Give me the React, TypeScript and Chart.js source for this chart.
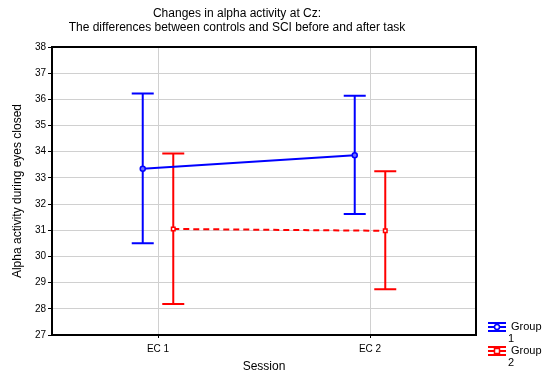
import React, { useEffect, useRef } from "react";
import { Chart, registerables } from "chart.js";

Chart.register(...registerables);

const categories = ["EC 1", "EC 2"];
const group1Mean = [33.35, 33.87];
const group1Upper = [36.22, 36.14];
const group1Lower = [30.5, 31.62];
const group2Mean = [31.05, 30.98];
const group2Upper = [33.93, 33.25];
const group2Lower = [28.18, 28.75];
const legendLabels = ["Group 1", "Group 2"];
const titleLines = ["Changes in alpha activity at Cz:", "The differences between controls and SCI before and after task"];

const BLUE = "#0000ff";
const RED = "#ff0000";
const OFFSET = 0.072;
const FONT = "'Liberation Sans', Arial, sans-serif";

export default function App() {
  const ref = useRef<HTMLCanvasElement | null>(null);

  useEffect(() => {
    const canvas = ref.current;
    if (!canvas) return;

    const errorBars = {
      id: "errorBars",
      beforeDatasetsDraw(chart: any) {
        const ctx = chart.ctx;
        const xs = chart.scales.x;
        const ys = chart.scales.y;
        const groups = [
          { up: group1Upper, lo: group1Lower, off: -OFFSET, color: BLUE },
          { up: group2Upper, lo: group2Lower, off: OFFSET, color: RED },
        ];
        ctx.save();
        groups.forEach((g) => {
          ctx.strokeStyle = g.color;
          ctx.lineWidth = 2;
          categories.forEach((_, i) => {
            const x = xs.getPixelForValue(i + 1 + g.off);
            const yu = ys.getPixelForValue(g.up[i]);
            const yl = ys.getPixelForValue(g.lo[i]);
            ctx.beginPath();
            ctx.moveTo(x, yu);
            ctx.lineTo(x, yl);
            ctx.moveTo(x - 11, yu);
            ctx.lineTo(x + 11, yu);
            ctx.moveTo(x - 11, yl);
            ctx.lineTo(x + 11, yl);
            ctx.stroke();
          });
        });
        ctx.restore();
      },
      afterDraw(chart: any) {
        const ctx = chart.ctx;
        const a = chart.chartArea;
        ctx.save();
        ctx.strokeStyle = "#000";
        ctx.lineWidth = 2;
        ctx.strokeRect(a.left, a.top, a.right - a.left, a.bottom - a.top);
        // title
        ctx.fillStyle = "#000";
        ctx.font = `12px ${FONT}`;
        ctx.textAlign = "center";
        ctx.textBaseline = "middle";
        ctx.fillText(titleLines[0], 237, 14);
        ctx.fillText(titleLines[1], 237, 28);
        // legend
        const items = [
          { color: BLUE, y: 327, shape: "circle" },
          { color: RED, y: 351, shape: "rect" },
        ];
        items.forEach((it, i) => {
          const x0 = 488, x1 = 506, cx = 497;
          ctx.strokeStyle = it.color;
          ctx.lineWidth = 2;
          ctx.beginPath();
          ctx.moveTo(x0, it.y - 4);
          ctx.lineTo(x1, it.y - 4);
          ctx.moveTo(x0, it.y + 4);
          ctx.lineTo(x1, it.y + 4);
          ctx.moveTo(cx, it.y - 4);
          ctx.lineTo(cx, it.y + 4);
          ctx.moveTo(x0, it.y);
          ctx.lineTo(x1, it.y);
          ctx.stroke();
          ctx.fillStyle = "#fff";
          ctx.lineWidth = 1.5;
          ctx.beginPath();
          if (it.shape === "circle") ctx.arc(cx, it.y, 2.5, 0, Math.PI * 2);
          else ctx.rect(cx - 2.5, it.y - 2.5, 5, 5);
          ctx.fill();
          ctx.stroke();
          const parts = legendLabels[i].split(" ");
          ctx.fillStyle = "#000";
          ctx.font = `11px ${FONT}`;
          ctx.textAlign = "left";
          ctx.fillText(parts[0], 511, it.y);
          ctx.fillText(parts[1], 508, it.y + 12);
        });
        ctx.restore();
      },
    };

    const chart = new Chart(canvas, {
      type: "scatter",
      data: {
        datasets: [
          {
            label: legendLabels[0],
            data: group1Mean.map((v, i) => ({ x: i + 1 - OFFSET, y: v })),
            showLine: true,
            borderColor: BLUE,
            borderWidth: 2,
            pointStyle: "circle",
            pointRadius: 2.5,
            pointBorderWidth: 1.5,
            pointBackgroundColor: "#7070ff",
            pointBorderColor: BLUE,
          },
          {
            label: legendLabels[1],
            data: group2Mean.map((v, i) => ({ x: i + 1 + OFFSET, y: v })),
            showLine: true,
            borderColor: RED,
            borderWidth: 2,
            borderDash: [6, 4],
            pointStyle: "rect",
            pointRadius: 2.5,
            pointBorderWidth: 1.5,
            pointBackgroundColor: "#fff",
            pointBorderColor: RED,
          },
        ],
      },
      options: {
        responsive: false,
        animation: false,
        layout: { padding: { top: 47, right: 67, left: 0, bottom: 0 } },
        plugins: {
          legend: { display: false },
          tooltip: { enabled: false },
          title: { display: false },
        },
        scales: {
          x: {
            type: "linear",
            min: 0.5,
            max: 2.5,
            afterBuildTicks: (s: any) => {
              s.ticks = categories.map((_, i) => ({ value: i + 1 }));
            },
            afterFit: (s: any) => {
              s.height = 41;
            },
            grid: { color: "#d0d0d0", lineWidth: 1, tickLength: 3, tickColor: "#000" },
            border: { display: false },
            ticks: {
              padding: 5,
              color: "#000",
              font: { size: 10, family: FONT },
              callback: (v: any) => categories[Math.round(Number(v)) - 1] ?? "",
              maxRotation: 0,
            },
            title: {
              display: true,
              text: "Session",
              color: "#000",
              font: { size: 12, family: FONT },
              padding: { top: 0, bottom: 2 },
            },
          },
          y: {
            min: 27,
            max: 38,
            afterFit: (s: any) => {
              s.width = 52;
            },
            grid: { color: "#d0d0d0", lineWidth: 1, tickLength: 4, tickColor: "#000" },
            border: { display: false },
            ticks: {
              stepSize: 1,
              padding: 2,
              color: "#000",
              font: { size: 10, family: FONT },
            },
            title: {
              display: true,
              text: "Alpha activity during eyes closed",
              color: "#000",
              font: { size: 12, family: FONT },
              padding: { top: 10, bottom: 0 },
            },
          },
        },
      },
      plugins: [errorBars],
    });
    return () => chart.destroy();
  }, []);

  return (
    <div style={{ position: "absolute", left: 0, top: 0, width: 543, height: 376, background: "#fff" }}>
      <canvas ref={ref} width={543} height={376} style={{ display: "block" }} />
    </div>
  );
}
